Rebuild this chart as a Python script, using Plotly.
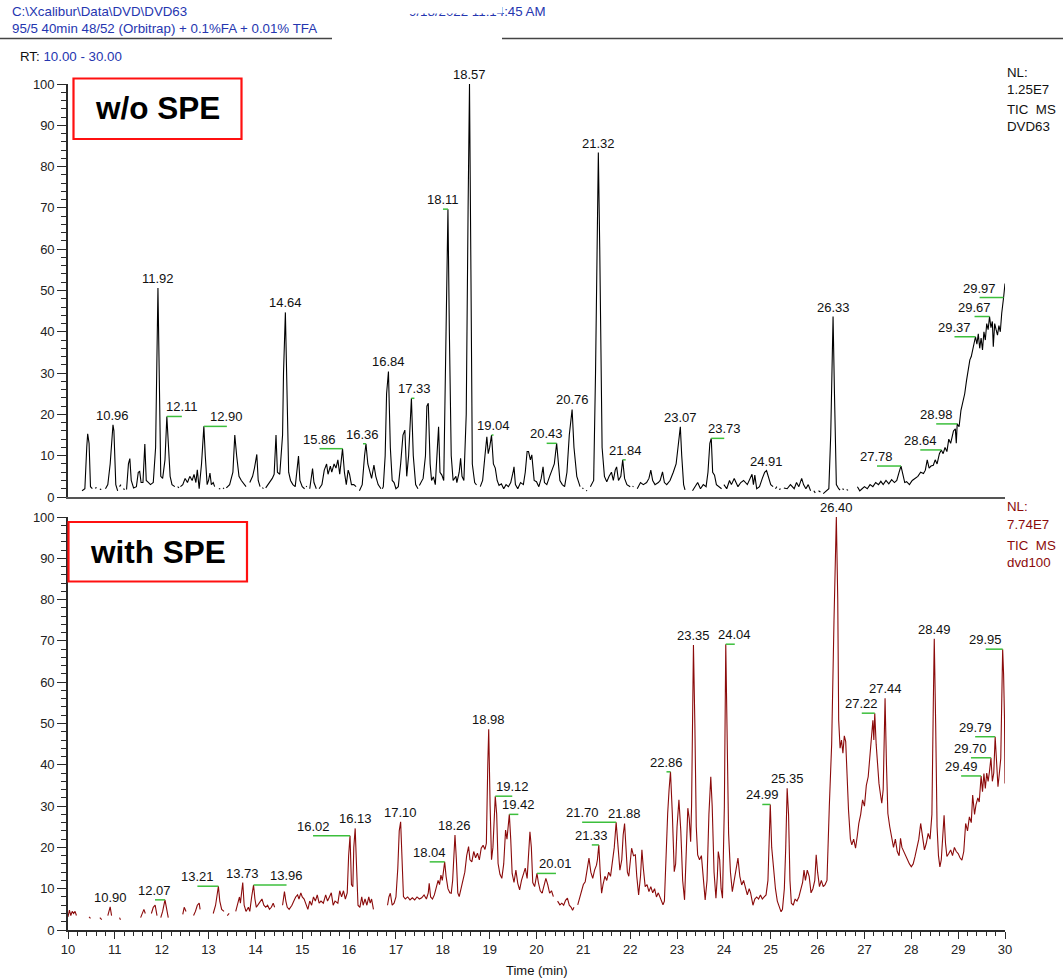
import plotly.graph_objects as go

# ---- data -------------------------------------------------------------
# Total ion chromatograms, (retention time [min], relative abundance [%]).
# (None, None) marks a break in the drawn trace.
TIC_WO_SPE = [
    (10.30, 1.5), (10.36, 2.0), (10.40, 12.0), (10.42, 15.3), (10.45, 13.0), (10.48, 2.5),
    (10.52, 2.0), (None, None), (10.58, 2.1), (10.61, 2.3), (None, None),
    (10.68, 1.9), (10.71, 1.8), (None, None),
    (10.80, 2.0), (10.85, 3.0), (10.90, 8.0), (10.96, 17.5), (10.98, 16.0), (11.02, 3.0),
    (11.06, 1.5), (None, None), (11.10, 2.5), (11.13, 3.0), (None, None),
    (11.18, 2.0), (11.21, 1.8), (None, None), (11.25, 1.8), (11.29, 8.0),
    (11.32, 9.3), (11.35, 4.0), (11.40, 2.2), (11.46, 2.5), (11.50, 6.0), (11.53, 6.2),
    (11.56, 3.5), (11.60, 3.5), (11.64, 12.8), (11.67, 4.0), (11.72, 3.5), (11.76, 3.0),
    (11.82, 3.5), (11.87, 12.0), (11.92, 50.6), (11.94, 30.0), (11.98, 5.0), (12.02, 4.5),
    (12.07, 9.0), (12.11, 19.5), (12.14, 12.0), (12.18, 5.0), (12.22, 3.0), (12.28, 2.5),
    (None, None), (12.34, 2.5), (12.37, 2.2), (None, None),
    (12.40, 2.5), (12.45, 3.0), (12.50, 4.5), (12.55, 3.5), (12.60, 5.0), (12.65, 4.0),
    (12.69, 5.5), (12.73, 3.5), (12.76, 6.6), (12.80, 2.0), (12.85, 8.0), (12.90, 17.1),
    (12.93, 10.0), (12.97, 3.0), (13.00, 4.0), (13.03, 5.8), (13.06, 3.0), (13.10, 3.5),
    (13.13, 2.5), (None, None), (13.22, 2.0), (13.25, 2.0), (None, None),
    (13.31, 2.2), (13.33, 2.0), (None, None),
    (13.38, 2.2), (13.45, 3.0), (13.52, 6.0), (13.56, 15.0), (13.60, 10.0), (13.65, 5.0),
    (13.70, 4.0), (13.76, 3.0), (13.80, 2.5), (None, None),
    (13.88, 3.5), (13.94, 5.0), (13.98, 7.0), (14.03, 10.3), (14.06, 4.0), (14.10, 2.5),
    (None, None), (14.15, 2.3), (14.17, 2.0), (None, None),
    (14.22, 2.2), (14.30, 3.5), (14.36, 4.5), (14.40, 5.5), (14.44, 15.0), (14.47, 6.0),
    (14.52, 5.5), (14.58, 15.0), (14.60, 30.0), (14.64, 44.7), (14.67, 25.0), (14.71, 6.0),
    (14.75, 4.0), (14.80, 3.0), (14.85, 2.5), (14.90, 8.0), (14.92, 9.9), (14.95, 4.0),
    (15.00, 2.5), (15.05, 2.0), (None, None), (15.08, 2.6), (15.10, 2.5), (None, None),
    (15.16, 2.0), (15.20, 6.0), (15.22, 6.9), (15.25, 3.5), (15.30, 2.0), (None, None),
    (15.36, 2.0), (15.42, 3.0), (15.47, 6.5), (15.52, 8.0), (15.55, 5.5), (15.60, 7.5),
    (15.63, 6.0), (15.68, 8.0), (15.72, 7.0), (15.76, 9.0), (15.80, 5.5), (15.86, 11.7),
    (15.90, 6.0), (15.94, 3.0), (15.98, 6.5), (16.01, 5.5), (16.05, 3.0), (16.10, 3.0),
    (16.15, 2.5), (None, None),
    (16.22, 1.5), (16.28, 3.0), (16.33, 10.0), (16.36, 12.9), (16.40, 8.0), (16.44, 6.0),
    (16.48, 4.5), (16.53, 7.7), (16.57, 5.0), (16.62, 3.0), (16.68, 2.0), (None, None),
    (16.71, 2.0), (16.73, 2.5), (16.77, 10.0), (16.80, 25.0), (16.84, 30.4), (16.88, 12.0),
    (16.92, 4.0), (16.96, 3.5), (17.00, 2.0), (17.05, 2.5), (17.10, 8.0), (17.15, 15.0),
    (17.19, 16.2), (17.23, 5.0), (17.27, 10.0), (17.33, 23.9), (17.37, 10.0), (17.42, 3.0),
    (17.47, 2.0), (None, None), (17.50, 2.8), (17.52, 3.3),
    (17.58, 4.5), (17.63, 10.0), (17.66, 22.0), (17.69, 22.7), (17.73, 8.0), (17.76, 4.0),
    (17.80, 4.9), (17.84, 3.0), (17.88, 10.0), (17.91, 17.0), (17.94, 6.0), (17.98, 5.3),
    (18.02, 4.0), (18.05, 25.0), (18.08, 55.0), (18.11, 69.7), (18.14, 40.0), (18.18, 10.0),
    (18.22, 4.0), (18.28, 5.0), (18.30, 3.5), (18.35, 6.0), (18.38, 9.4), (18.41, 5.0),
    (18.45, 4.0), (18.50, 20.0), (18.54, 70.0), (18.57, 100.0), (18.60, 55.0), (18.63, 8.0),
    (18.68, 3.5), (18.72, 2.9), (None, None),
    (18.80, 2.5), (18.85, 4.0), (18.90, 10.0), (18.94, 14.6), (18.97, 10.5), (19.00, 12.0),
    (19.04, 15.0), (19.08, 8.0), (19.12, 7.0), (19.16, 4.0), (19.20, 2.8), (19.25, 3.2),
    (19.30, 2.0), (19.35, 3.0), (19.40, 2.5), (19.45, 3.5), (19.50, 6.0), (19.52, 7.3),
    (19.55, 3.0), (19.60, 2.0), (19.66, 3.5), (19.72, 3.0), (19.76, 6.0), (19.80, 11.0),
    (19.83, 11.0), (19.87, 9.0), (19.90, 10.2), (19.95, 4.0), (20.00, 3.7), (20.05, 2.5),
    (20.10, 4.5), (20.14, 7.3), (20.17, 3.5), (20.22, 3.0), (20.28, 5.0), (20.33, 6.5),
    (20.38, 8.0), (20.43, 13.0), (20.46, 9.0), (20.50, 4.0), (20.55, 3.0), (20.60, 2.5),
    (20.65, 6.0), (20.70, 15.0), (20.76, 21.2), (20.80, 12.0), (20.86, 5.0), (20.93, 2.5),
    (None, None), (20.98, 2.2), (21.00, 2.0), (None, None), (21.06, 1.6), (21.08, 1.5),
    (None, None),
    (21.15, 2.5), (21.22, 4.0), (21.26, 30.0), (21.30, 75.0), (21.32, 83.4), (21.35, 60.0),
    (21.40, 12.0), (21.45, 5.0), (21.50, 3.7), (21.55, 5.0), (21.60, 6.0), (21.64, 4.0),
    (21.68, 6.5), (21.71, 7.3), (21.75, 4.0), (21.80, 5.0), (21.84, 9.0), (21.88, 4.5),
    (21.93, 3.0), (22.00, 2.5), (None, None), (22.05, 2.6), (22.07, 2.5), (None, None),
    (22.15, 2.0), (22.22, 3.5), (22.28, 3.0), (22.35, 3.5), (22.40, 4.5), (22.44, 6.5),
    (22.48, 4.0), (22.53, 3.0), (22.60, 3.5), (22.64, 4.0), (22.69, 6.1), (22.73, 3.5),
    (22.78, 3.0), (22.85, 4.0), (22.92, 6.0), (22.98, 8.0), (23.02, 12.0), (23.07, 17.0),
    (23.10, 10.0), (23.14, 3.0), (23.17, 1.7), (None, None),
    (23.33, 1.5), (23.38, 2.5), (23.44, 3.5), (23.50, 2.0), (23.56, 3.0), (23.62, 2.5),
    (23.66, 6.0), (23.70, 13.0), (23.73, 14.2), (23.76, 6.0), (23.80, 5.3), (23.84, 3.0),
    (23.90, 2.5), (23.95, 2.0), (None, None), (24.00, 3.0), (24.06, 2.0), (24.12, 4.0),
    (24.16, 3.0), (24.22, 4.5), (24.26, 3.5), (24.30, 2.5), (24.36, 3.5), (24.42, 4.0),
    (24.50, 3.0), (24.55, 4.5), (24.60, 5.5), (24.63, 3.0), (24.66, 5.3), (24.70, 2.0),
    (24.76, 2.5), (24.82, 4.5), (24.87, 6.0), (24.91, 6.4), (24.95, 5.0), (25.00, 3.0),
    (25.05, 2.5), (None, None), (25.10, 2.0), (25.13, 2.5), (None, None),
    (25.18, 1.8), (25.21, 2.0), (None, None),
    (25.28, 2.2), (25.35, 2.0), (25.42, 3.0), (25.50, 2.0), (25.55, 3.5), (25.60, 2.5),
    (25.66, 4.5), (25.70, 3.0), (25.75, 2.0), (25.80, 3.0), (25.85, 1.5), (None, None),
    (25.92, 1.5), (25.95, 1.0), (None, None), (26.02, 1.5), (26.06, 1.2), (None, None),
    (26.12, 0.8), (26.18, 1.5), (26.24, 2.0), (26.28, 15.0),
    (26.31, 40.0), (26.33, 43.7), (26.36, 25.0), (26.40, 3.0), (26.45, 2.0), (26.48, 1.7),
    (None, None), (26.53, 2.0), (26.56, 1.8), (None, None), (26.62, 1.8), (26.65, 1.6),
    (None, None),
    (26.85, 2.5), (26.90, 1.5), (26.95, 2.0), (27.00, 2.5), (27.06, 2.0), (27.12, 3.0),
    (27.18, 2.5), (27.24, 3.5), (27.30, 3.0), (27.35, 3.8), (27.40, 3.0), (27.46, 4.0),
    (27.52, 3.2), (27.58, 4.2), (27.64, 3.5), (27.69, 4.0), (27.74, 6.0), (27.78, 7.5),
    (27.82, 5.5), (27.86, 3.5), (27.90, 3.7), (27.96, 3.0), (28.02, 4.0), (28.08, 4.5),
    (28.14, 5.0), (28.20, 6.0), (28.26, 5.7), (28.30, 6.5), (28.34, 9.0), (28.38, 7.0),
    (28.42, 7.5), (28.47, 7.7), (28.51, 9.0), (28.55, 8.0), (28.60, 10.5), (28.64, 11.4),
    (28.68, 10.5), (28.72, 12.0), (28.76, 11.0), (28.80, 14.0), (28.84, 13.0), (28.88, 15.0),
    (28.90, 16.0), (28.94, 16.5), (28.96, 13.0), (28.98, 17.7), (29.02, 17.0), (29.06, 21.0),
    (29.10, 23.0), (29.14, 25.0), (29.18, 28.3), (29.22, 31.0), (29.25, 33.2), (29.28, 34.0),
    (29.31, 35.6), (29.34, 36.5), (29.37, 38.8), (29.40, 37.0), (29.43, 39.5), (29.46, 36.0),
    (29.49, 38.5), (29.52, 35.6), (29.55, 40.0), (29.58, 38.0), (29.61, 42.0), (29.64, 40.5),
    (29.67, 43.7), (29.70, 41.0), (29.73, 42.5), (29.75, 36.4), (29.78, 42.0), (29.81, 40.5),
    (29.84, 39.2), (29.87, 41.5), (29.90, 40.0), (29.93, 44.5), (29.95, 46.0), (29.97, 48.3),
    (30.00, 51.7),
]

TIC_WITH_SPE = [
    (10.00, 3.2), (10.03, 4.8), (10.06, 3.5), (10.09, 4.5), (10.12, 4.0), (10.15, 4.5),
    (10.18, 3.5), (None, None), (10.45, 3.2), (10.48, 2.8), (None, None),
    (10.68, 3.0), (10.72, 2.5), (None, None),
    (10.85, 3.5), (10.88, 4.5), (10.90, 5.6), (10.93, 3.5), (None, None),
    (11.10, 3.0), (11.12, 2.5), (None, None),
    (11.55, 3.0), (11.58, 4.0), (11.62, 5.0), (11.65, 4.0), (None, None),
    (11.78, 4.0), (11.82, 5.5), (11.86, 6.0), (11.90, 3.5), (None, None),
    (11.98, 3.0), (12.02, 4.5), (12.07, 7.3), (12.10, 5.0), (12.14, 3.0), (None, None),
    (12.45, 3.8), (12.48, 5.5), (12.52, 4.5), (None, None),
    (12.68, 3.5), (12.72, 4.5), (12.76, 6.0), (12.80, 6.5), (12.82, 5.0), (None, None),
    (13.10, 4.0), (13.15, 6.0), (13.21, 10.6), (13.24, 7.0), (13.28, 5.0), (13.33, 4.5),
    (None, None), (13.40, 3.5), (13.44, 4.0), (None, None),
    (13.58, 4.5), (13.62, 6.0), (13.66, 8.0), (13.68, 6.5), (13.70, 9.0), (13.73, 11.5),
    (13.76, 6.0), (13.80, 4.5), (13.85, 5.5), (13.88, 4.5), (13.92, 8.0), (13.96, 10.9),
    (13.99, 7.5), (14.02, 5.5), (14.08, 6.5), (14.14, 7.5), (14.18, 6.0), (14.22, 5.5),
    (14.26, 6.0), (14.30, 5.0), (14.34, 5.5), (14.38, 6.5), (14.41, 5.5), (None, None),
    (14.58, 6.0), (14.62, 9.3), (14.65, 7.0), (14.68, 5.5), (14.72, 5.0), (14.78, 6.0),
    (14.82, 7.0), (14.86, 8.0), (14.90, 8.5), (14.93, 7.5), (14.97, 9.0), (15.00, 8.0),
    (15.04, 7.5), (15.08, 6.0), (15.12, 5.0), (15.16, 7.0), (15.20, 6.0), (15.24, 8.0),
    (15.28, 7.0), (15.32, 8.5), (15.36, 6.5), (15.40, 7.0), (15.45, 6.5), (15.50, 8.5),
    (15.54, 7.0), (15.58, 8.0), (15.62, 9.0), (15.66, 6.0), (15.70, 7.0), (15.76, 6.5),
    (15.80, 9.5), (15.84, 8.0), (15.88, 9.5), (15.92, 7.5), (15.96, 9.0), (15.99, 18.0),
    (16.02, 22.8), (16.05, 11.0), (16.08, 10.5), (16.10, 20.0), (16.13, 24.6), (16.16, 15.0),
    (16.19, 6.0), (16.23, 5.5), (16.27, 8.0), (16.30, 6.0), (16.34, 7.5), (16.38, 6.0),
    (16.42, 8.0), (16.45, 6.5), (16.48, 7.5), (16.52, 5.0), (None, None),
    (16.82, 6.0), (16.85, 8.0), (16.88, 8.9), (16.92, 6.0), (16.96, 6.5), (17.00, 8.0),
    (17.04, 15.0), (17.07, 24.0), (17.10, 26.2), (17.13, 18.0), (17.16, 8.1), (17.20, 7.5),
    (17.25, 8.0), (17.30, 7.3), (17.35, 7.8), (17.40, 7.3), (17.45, 8.0), (17.50, 7.5),
    (17.55, 7.8), (17.60, 8.5), (17.65, 7.5), (17.69, 9.0), (17.71, 11.3), (17.74, 8.0),
    (17.78, 7.5), (17.82, 8.5), (17.86, 10.0), (17.90, 12.0), (17.93, 11.0), (17.96, 13.3),
    (17.99, 12.0), (18.04, 16.5), (18.07, 13.0), (18.11, 10.0), (18.15, 9.0), (18.18, 8.9),
    (18.21, 12.0), (18.24, 20.0), (18.26, 23.0), (18.29, 17.0), (18.32, 9.0), (18.35, 8.1),
    (18.39, 10.0), (18.43, 12.1), (18.47, 14.0), (18.51, 18.0), (18.55, 20.2), (18.58, 17.0),
    (18.62, 16.5), (18.66, 19.0), (18.70, 17.5), (18.74, 18.6), (18.78, 17.0), (18.82, 19.8),
    (18.86, 20.5), (18.90, 19.5), (18.93, 21.0), (18.96, 40.0), (18.98, 48.6), (19.01, 30.0),
    (19.04, 17.0), (19.07, 20.0), (19.10, 28.0), (19.12, 32.4), (19.15, 28.0), (19.18, 16.1),
    (19.22, 13.5), (19.26, 12.5), (19.30, 16.0), (19.34, 24.2), (19.37, 22.0), (19.42, 28.0),
    (19.45, 22.0), (19.48, 13.7), (19.52, 11.5), (19.56, 14.5), (19.60, 11.3), (19.64, 9.7),
    (19.68, 12.0), (19.72, 13.5), (19.76, 15.0), (19.80, 12.5), (19.83, 20.0), (19.86, 23.8),
    (19.89, 20.0), (19.92, 11.5), (19.96, 10.5), (20.01, 13.7), (20.04, 11.5), (20.08, 9.5),
    (20.12, 8.9), (20.16, 11.0), (20.20, 12.5), (20.24, 11.0), (20.28, 8.9), (20.32, 9.5),
    (20.36, 8.1), (None, None),
    (20.45, 7.0), (20.50, 6.1), (20.54, 6.5), (20.58, 6.0), (20.62, 7.2), (20.66, 7.7),
    (20.70, 6.0), (20.74, 5.5), (20.77, 4.8), (20.80, 5.5), (None, None),
    (20.88, 6.1), (20.94, 8.5), (21.00, 11.0), (21.04, 11.7), (21.08, 15.0), (21.12, 17.4),
    (21.16, 14.0), (21.20, 12.5), (21.24, 14.5), (21.28, 15.7), (21.30, 17.0), (21.33, 20.6),
    (21.36, 14.0), (21.39, 8.9), (21.42, 11.0), (21.46, 13.0), (21.50, 12.0), (21.54, 14.0),
    (21.58, 13.0), (21.62, 16.0), (21.66, 20.0), (21.70, 26.1), (21.74, 20.0), (21.78, 14.5),
    (21.82, 17.0), (21.85, 23.0), (21.88, 25.8), (21.91, 20.0), (21.94, 14.0), (21.97, 13.0),
    (22.00, 17.0), (22.03, 19.8), (22.07, 18.0), (22.11, 18.2), (22.14, 13.0), (22.18, 8.5),
    (22.22, 13.0), (22.25, 19.4), (22.28, 15.0), (22.32, 10.5), (22.36, 11.0), (22.40, 9.3),
    (22.44, 10.5), (22.48, 9.0), (22.52, 10.0), (22.56, 8.0), (22.60, 9.0), (22.65, 7.5),
    (22.70, 6.1), (22.73, 7.0), (22.77, 20.0), (22.80, 28.2), (22.83, 34.0), (22.86, 38.3),
    (22.90, 28.0), (22.94, 14.1), (22.97, 16.0), (23.00, 25.0), (23.04, 31.5), (23.08, 24.0),
    (23.12, 12.0), (23.16, 7.3), (23.20, 20.0), (23.23, 29.5), (23.26, 27.0), (23.29, 21.4),
    (23.31, 30.0), (23.33, 58.0), (23.35, 69.0), (23.38, 50.0), (23.41, 25.0), (23.44, 18.2),
    (23.48, 17.0), (23.52, 18.0), (23.56, 12.0), (23.60, 7.3), (23.64, 12.0), (23.68, 28.0),
    (23.72, 37.1), (23.75, 30.0), (23.79, 14.0), (23.83, 7.7), (23.86, 13.0), (23.88, 19.0),
    (23.91, 17.0), (23.94, 10.0), (23.97, 7.7), (24.01, 30.0), (24.04, 69.2), (24.07, 50.0),
    (24.10, 23.4), (24.14, 14.0), (24.18, 9.3), (24.22, 12.0), (24.27, 15.7), (24.30, 17.4),
    (24.34, 13.0), (24.38, 10.9), (24.42, 12.0), (24.46, 10.0), (24.50, 8.5), (24.54, 10.0),
    (24.57, 9.0), (24.62, 6.0), (24.66, 7.5), (24.70, 8.0), (24.74, 7.5), (24.78, 8.5),
    (24.82, 7.5), (24.86, 8.0), (24.90, 8.5), (24.94, 12.0), (24.97, 22.0), (24.99, 30.4),
    (25.02, 20.0), (25.06, 14.9), (25.10, 10.0), (25.14, 7.0), (25.18, 5.6), (25.22, 4.4),
    (25.25, 5.0), (25.29, 10.0), (25.32, 20.0), (25.35, 34.3), (25.38, 28.0), (25.41, 12.0),
    (25.44, 6.5), (25.48, 6.0), (25.52, 7.5), (25.56, 7.0), (25.60, 8.0), (25.64, 9.7),
    (25.68, 11.5), (25.71, 14.5), (25.74, 12.0), (25.78, 14.5), (25.82, 13.0), (25.86, 9.0),
    (25.90, 10.0), (25.94, 12.0), (25.97, 18.2), (26.00, 14.0), (26.04, 10.5), (26.08, 12.0),
    (26.12, 10.5), (26.16, 11.0), (26.20, 12.0), (26.25, 29.9), (26.30, 45.0), (26.35, 75.0),
    (26.40, 100.0), (26.43, 80.0), (26.45, 50.8), (26.48, 44.0), (26.51, 46.0), (26.54, 42.8),
    (26.57, 47.0), (26.60, 45.6), (26.63, 35.0), (26.66, 29.0), (26.70, 22.0), (26.73, 20.6),
    (26.77, 22.0), (26.81, 19.8), (26.85, 23.0), (26.88, 25.8), (26.92, 28.0), (26.96, 31.5),
    (27.00, 30.0), (27.04, 35.0), (27.08, 37.1), (27.12, 42.0), (27.15, 47.0), (27.18, 50.8),
    (27.20, 46.0), (27.22, 52.5), (27.25, 45.0), (27.28, 40.0), (27.31, 35.5), (27.34, 33.0),
    (27.37, 30.7), (27.40, 34.0), (27.44, 56.1), (27.47, 40.0), (27.50, 28.2), (27.54, 25.0),
    (27.58, 22.6), (27.62, 20.0), (27.66, 22.0), (27.70, 19.0), (27.74, 18.0), (27.77, 22.2),
    (27.80, 20.0), (27.84, 19.0), (27.88, 17.8), (27.92, 17.0), (27.96, 16.0), (28.00, 15.3),
    (28.04, 16.0), (28.08, 17.8), (28.12, 20.0), (28.16, 22.0), (28.20, 25.8), (28.24, 22.0),
    (28.28, 19.4), (28.32, 21.0), (28.36, 23.4), (28.40, 22.0), (28.44, 28.0), (28.47, 55.0),
    (28.49, 70.5), (28.52, 50.0), (28.55, 25.0), (28.58, 18.0), (28.61, 15.3), (28.64, 17.0),
    (28.67, 22.0), (28.70, 27.8), (28.73, 21.0), (28.76, 17.8), (28.80, 18.5), (28.84, 19.4),
    (28.88, 18.0), (28.92, 20.0), (28.96, 19.0), (29.00, 18.5), (29.04, 17.5), (29.08, 16.9),
    (29.12, 19.0), (29.16, 25.8), (29.20, 24.0), (29.24, 27.4), (29.28, 26.0), (29.31, 32.7),
    (29.35, 28.0), (29.38, 30.3), (29.42, 32.0), (29.45, 31.0), (29.49, 37.3), (29.52, 33.5),
    (29.55, 37.9), (29.58, 34.3), (29.61, 38.0), (29.64, 36.0), (29.67, 38.5), (29.70, 41.7),
    (29.73, 36.0), (29.76, 38.0), (29.79, 46.8), (29.82, 40.0), (29.85, 34.7), (29.88, 38.0),
    (29.91, 41.6), (29.93, 55.0), (29.95, 68.0), (29.97, 62.0), (29.99, 50.8), (30.00, 35.5),
]

# Retention times annotated on each trace
PEAKS_WO_SPE = ["10.96", "11.92", "12.11", "12.90", "14.64", "15.86", "16.36", "16.84",
                "17.33", "18.11", "18.57", "19.04", "20.43", "20.76", "21.32", "21.84",
                "23.07", "23.73", "24.91", "26.33", "27.78", "28.64", "28.98", "29.37",
                "29.67", "29.97"]
PEAKS_WITH_SPE = ["10.90", "12.07", "13.21", "13.73", "13.96", "16.02", "16.13", "17.10",
                  "18.04", "18.26", "18.98", "19.12", "19.42", "20.01", "21.33", "21.70",
                  "21.88", "22.86", "23.35", "24.04", "24.99", "25.35", "26.40", "27.22",
                  "27.44", "28.49", "29.49", "29.70", "29.79", "29.95"]

Y_TICKS = [0, 10, 20, 30, 40, 50, 60, 70, 80, 90, 100]
X_TICKS = list(range(10, 31))

# ---- layout helpers ---------------------------------------------------
W, H = 1063, 979
X_LEFT, X_RIGHT = 68, 1005          # plot area, px
TOP_Y100, TOP_Y0 = 84, 497
BOT_Y100, BOT_Y0 = 517, 930
PX_PER_MIN = (X_RIGHT - X_LEFT) / 20.0

# horizontal label displacement (px) for crowded peaks
LABEL_SHIFT_TOP = {"12.11": 15, "12.90": 23, "15.86": -23, "16.36": -3, "17.33": 3,
                   "18.11": -5, "19.04": 2, "20.43": -10, "21.84": 3, "23.73": 13,
                   "27.78": -24, "28.64": -21, "28.98": -21, "29.37": -21,
                   "29.67": -15, "29.97": -24}
LABEL_SHIFT_BOT = {"12.07": -10, "13.21": -21, "13.96": 33, "16.02": -37, "18.04": -15,
                   "19.12": 17, "19.42": 9, "20.01": 19, "21.33": -7, "21.70": -34,
                   "22.86": -4, "24.04": 9, "24.99": -8, "27.22": -13, "29.49": -20,
                   "29.70": -20, "29.79": -20, "29.95": -17}

FONT = "Liberation Sans, Arial, Helvetica, sans-serif"
BLUE = "#2536b0"
DARKRED = "#8b0b0b"
GREEN = "#3cbf3c"
AXIS = "#2a2a2a"
HEAD = 13.3


def unzip(points):
    xs = [p[0] for p in points]
    ys = [p[1] for p in points]
    return xs, ys


def apex(points, rt):
    best = min((p for p in points if p[0] is not None), key=lambda p: abs(p[0] - rt))
    return best[1]


def py_to_paper(py):
    return 1 - py / H


fig = go.Figure()

x1, y1 = unzip(TIC_WO_SPE)
x2, y2 = unzip(TIC_WITH_SPE)
fig.add_trace(go.Scatter(x=x1, y=y1, mode="lines", line=dict(color="#000000", width=1.1),
                         connectgaps=False, xaxis="x", yaxis="y", hoverinfo="skip"))
fig.add_trace(go.Scatter(x=x2, y=y2, mode="lines", line=dict(color=DARKRED, width=1.1),
                         connectgaps=False, xaxis="x2", yaxis="y2", hoverinfo="skip"))

annotations = []
shapes = []


def peak_labels(points, labels, shifts, xref, yref):
    for lab in labels:
        rt = float(lab)
        top = apex(points, rt)
        dx = shifts.get(lab, 0)
        annotations.append(dict(x=rt, y=top, xref=xref, yref=yref, text=lab,
                                showarrow=False, xanchor="center", yanchor="bottom",
                                xshift=dx, yshift=0,
                                font=dict(family=FONT, size=13, color="#111111")))
        if abs(dx) >= 2:
            shapes.append(dict(type="line", xref=xref, yref=yref,
                               x0=rt, x1=rt + dx / PX_PER_MIN, y0=top, y1=top,
                               line=dict(color=GREEN, width=1.5), layer="above"))


peak_labels(TIC_WO_SPE, PEAKS_WO_SPE, LABEL_SHIFT_TOP, "x", "y")
peak_labels(TIC_WITH_SPE, PEAKS_WITH_SPE, LABEL_SHIFT_BOT, "x2", "y2")


def paper_text(px, py, text, color, size=13, anchor="left", bold=False):
    annotations.append(dict(x=px / W, y=py_to_paper(py), xref="paper", yref="paper",
                            text=f"<b>{text}</b>" if bold else text, showarrow=False,
                            xanchor=anchor, yanchor="middle",
                            font=dict(family=FONT, size=size, color=color)))


# header
paper_text(10, 11, "C:\\Xcalibur\\Data\\DVD\\DVD63", BLUE, HEAD)
paper_text(10, 28, "95/5 40min 48/52 (Orbitrap) + 0.1%FA + 0.01% TFA", BLUE, HEAD)
paper_text(548, 12, "9/18/2022 11:14:45 AM", BLUE, HEAD, anchor="right")
# the upper part of the date stamp is printed over
annotations.append(dict(x=400 / W, y=1.0, xref="paper", yref="paper", text=" ",
                        showarrow=False, xanchor="left", yanchor="top", width=101,
                        height=12, bgcolor="#ffffff", borderpad=0,
                        font=dict(size=4)))
paper_text(18, 57, "RT: <span style='color:%s'>10.00 - 30.00</span>" % BLUE, "#111111", HEAD)
shapes.append(dict(type="line", xref="paper", yref="paper", x0=0, x1=332 / W,
                   y0=py_to_paper(38.5), y1=py_to_paper(38.5),
                   line=dict(color="#444444", width=1.6)))
shapes.append(dict(type="line", xref="paper", yref="paper", x0=502 / W, x1=1.0,
                   y0=py_to_paper(38.5), y1=py_to_paper(38.5),
                   line=dict(color="#444444", width=1.6)))

# normalisation level blocks
for i, t in enumerate(["NL:", "1.25E7", "TIC  MS", "DVD63"]):
    paper_text(1005, [72, 89, 109, 126][i], t, "#111111", HEAD)
for i, t in enumerate(["NL:", "7.74E7", "TIC  MS", "dvd100"]):
    paper_text(1005, [507, 524, 545, 562][i], t, DARKRED, HEAD)

# sample boxes
shapes.append(dict(type="rect", xref="paper", yref="paper", x0=73.5 / W, x1=241.5 / W,
                   y0=py_to_paper(139), y1=py_to_paper(78.5),
                   line=dict(color="#ff1010", width=2.2), fillcolor="#ffffff"))
paper_text(157.5, 108, "w/o SPE", "#000000", 31.5, anchor="center", bold=True)
shapes.append(dict(type="rect", xref="paper", yref="paper", x0=68.5 / W, x1=247 / W,
                   y0=py_to_paper(581.5), y1=py_to_paper(522),
                   line=dict(color="#ff1010", width=2.2), fillcolor="#ffffff"))
paper_text(158, 552, "with SPE", "#000000", 31.5, anchor="center", bold=True)

# axis title
paper_text((X_LEFT + X_RIGHT) / 2, 970, "Time (min)", "#111111", 13, anchor="center")

xdom = [X_LEFT / W, X_RIGHT / W]
yaxis_common = dict(range=[0, 100], tickvals=Y_TICKS, ticks="outside", ticklen=9,
                    tickwidth=1.3, tickcolor=AXIS, showline=True, linecolor=AXIS,
                    linewidth=1.6, showgrid=False, zeroline=False,
                    tickfont=dict(family=FONT, size=13, color="#222222"),
                    minor=dict(dtick=2, ticks="outside", ticklen=5, tickwidth=1.2,
                               tickcolor=AXIS, showgrid=False))

fig.update_layout(
    width=W, height=H, margin=dict(l=0, r=0, t=0, b=0, autoexpand=False),
    paper_bgcolor="#ffffff", plot_bgcolor="#ffffff", showlegend=False,
    xaxis=dict(domain=xdom, range=[10, 30], anchor="y", showline=True,
               linecolor="#555555", linewidth=2, ticks="", showticklabels=False,
               showgrid=False, zeroline=False),
    yaxis=dict(domain=[py_to_paper(TOP_Y0), py_to_paper(TOP_Y100)], anchor="x",
               **yaxis_common),
    xaxis2=dict(domain=xdom, range=[10, 30], anchor="y2", showline=True,
                linecolor=AXIS, linewidth=1.6, tickvals=X_TICKS, ticks="outside",
                ticklen=7, tickwidth=1.3, tickcolor=AXIS, showgrid=False, zeroline=False,
                tickfont=dict(family=FONT, size=13, color="#222222"),
                minor=dict(dtick=0.2, ticks="outside", ticklen=4, tickwidth=1.2,
                           tickcolor=AXIS, showgrid=False)),
    yaxis2=dict(domain=[py_to_paper(BOT_Y0), py_to_paper(BOT_Y100)], anchor="x2",
                **yaxis_common),
    annotations=annotations,
    shapes=shapes,
)

fig.write_html("out.html",
               post_script="document.body.style.margin='0px';"
                           "document.body.style.padding='0px';")
